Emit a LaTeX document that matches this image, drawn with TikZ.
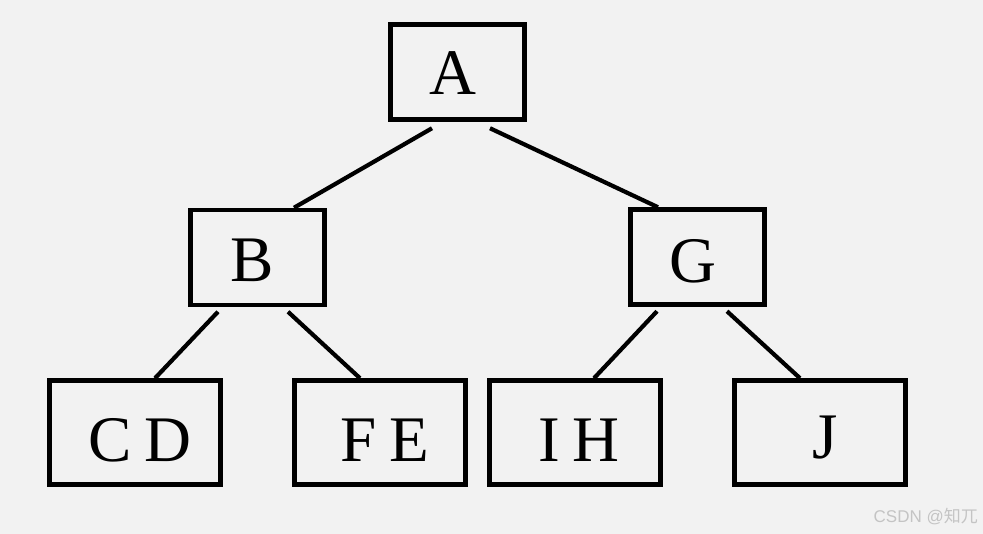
\documentclass[tikz,border=0pt]{standalone}
\usepackage{fontspec}
\setmainfont{Liberation Serif}
\newfontfamily\wmfont{Liberation Sans}
\newfontfamily\wmcjk{Noto Sans CJK SC}
\begin{document}
\begin{tikzpicture}[x=1pt,y=-1pt,
  box/.style={draw=black,line width=4.5pt,rectangle,inner sep=0pt,fill=none},
  small/.style={box,minimum width=134pt,minimum height=95pt},
  wide/.style={box,minimum width=171pt,minimum height=104pt},
  lbl/.style={anchor=base,inner sep=0pt,font=\fontsize{65}{70}\selectfont,text=black},
  edge/.style={draw=black,line width=4.2pt}]
\fill[fill={rgb,255:red,242;green,242;blue,242}] (0,0) rectangle (983,534);
\useasboundingbox (0,0) rectangle (983,534);
% boxes
\node[small] (A) at (457.5,72) {};
\node[small] (B) at (257.5,257.5) {};
\node[small] (G) at (697.5,257) {};
\node[wide] (CD) at (135,432.5) {};
\node[wide] (FE) at (380,432.5) {};
\node[wide] (IH) at (575,432.5) {};
\node[wide] (J) at (820,432.5) {};
% labels
\node[lbl] (tA) at (453,95) {A};
\node[lbl] (tB) at (252,282) {B};
\node[lbl] (tG) at (693,283) {G};
\node[lbl] (tCD) at (140,462) {C\kern0.2em D};
\node[lbl] (tFE) at (385,462) {F\kern0.2em E};
\node[lbl] (tIH) at (579,462) {I\kern0.2em H};
\node[lbl] (tJ) at (825,459) {J};
% connectors
\draw[edge] ([xshift=-25.5pt,yshift=-6.5pt]A.south) -- ([xshift=36.5pt]B.north);
\draw[edge] ([xshift=32.5pt,yshift=-6.5pt]A.south) -- ([xshift=-39.5pt]G.north);
\draw[edge] ([xshift=-39.5pt,yshift=-4.5pt]B.south) -- ([xshift=20pt]CD.north);
\draw[edge] ([xshift=30.5pt,yshift=-4.5pt]B.south) -- ([xshift=-20pt]FE.north);
\draw[edge] ([xshift=-40.5pt,yshift=-4.5pt]G.south) -- ([xshift=19pt]IH.north);
\draw[edge] ([xshift=29.5pt,yshift=-4.5pt]G.south) -- ([xshift=-20pt]J.north);
% watermark
\node[anchor=base east,inner sep=0pt,font=\wmfont\fontsize{17}{20}\selectfont,text={rgb,255:red,196;green,196;blue,196}] (wm) at (978,522) {CSDN @{\wmcjk 知兀}};
\end{tikzpicture}
\end{document}
